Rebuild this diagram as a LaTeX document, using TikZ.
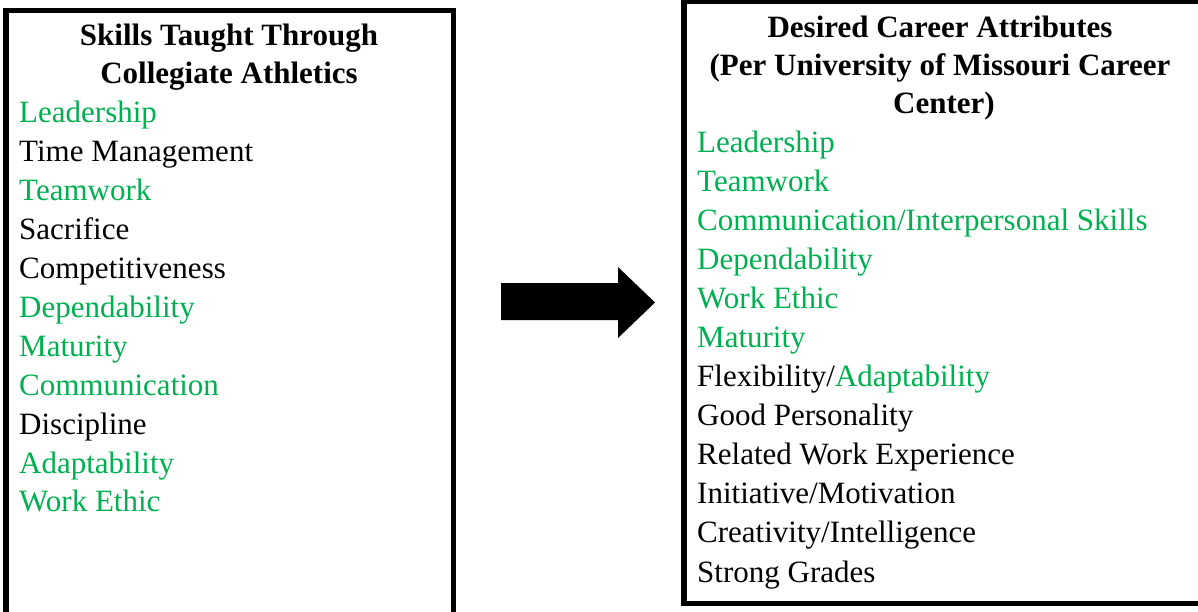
\documentclass[tikz,border=0pt]{standalone}
\usepackage{fontspec}
\setmainfont{Liberation Serif}
\usetikzlibrary{positioning}
\definecolor{match}{RGB}{0,176,80}

\begin{document}
\begin{tikzpicture}[x=1pt,y=-1pt,
  box/.style={line width=5.5},
  head/.style={font=\fontsize{31}{38}\selectfont\bfseries, anchor=base, inner sep=0},
  item/.style={font=\fontsize{31}{38}\selectfont, anchor=base west, inner sep=0},
  hit/.style={item, text=match}]
\useasboundingbox (0,0) rectangle (1198,611);
% the two frames
\draw[box] (5.8,10.5) rectangle (453.5,625);
\draw[box] (684,1.5) rectangle (1212,603.5);
% left list
\node[head] (skillshead1) at (229,45) {Skills Taught Through};
\node[head] (skillshead2) at (229,83) {Collegiate Athletics};
\node[hit] (skill1) at (19,122) {Leadership};
\node[item] (skill2) at (19,161) {Time Management};
\node[hit] (skill3) at (19,200) {Teamwork};
\node[item] (skill4) at (19,239) {Sacrifice};
\node[item] (skill5) at (19,278) {Competitiveness};
\node[hit] (skill6) at (19,317) {Dependability};
\node[hit] (skill7) at (19,356) {Maturity};
\node[hit] (skill8) at (19,395) {Communication};
\node[item] (skill9) at (19,434) {Discipline};
\node[hit] (skill10) at (19,473) {Adaptability};
\node[hit] (skill11) at (19,511) {Work Ethic};
% right list
\node[head] (careerhead1) at (940,37) {Desired Career Attributes};
\node[head] (careerhead2) at (940,75) {(Per University of\ Missouri Career};
\node[head] (careerhead3) at (944,113) {Center)};
\node[hit] (career1) at (697,152) {Leadership};
\node[hit] (career2) at (697,191) {Teamwork};
\node[hit] (career3) at (697,230) {Communication/Interpersonal Skills};
\node[hit] (career4) at (697,269) {Dependability};
\node[hit] (career5) at (697,308) {Work Ethic};
\node[hit] (career6) at (697,347) {Maturity};
\node[item] (career7) at (697,386) {Flexibility/\textcolor{match}{Adaptability}};
\node[item] (career8) at (697,425) {Good Personality};
\node[item] (career9) at (697,464) {Related Work Experience};
\node[item] (career10) at (697,503) {Initiative/Motivation};
\node[item] (career11) at (697,542) {Creativity/Intelligence};
\node[item] (career12) at (697,582) {Strong Grades};
% block arrow between the frames
\fill (501,283) -- (618,283) -- (618,267) -- (655,302.5) -- (618,338)
  -- (618,320) -- (501,320) -- cycle;
\end{tikzpicture}
\end{document}
